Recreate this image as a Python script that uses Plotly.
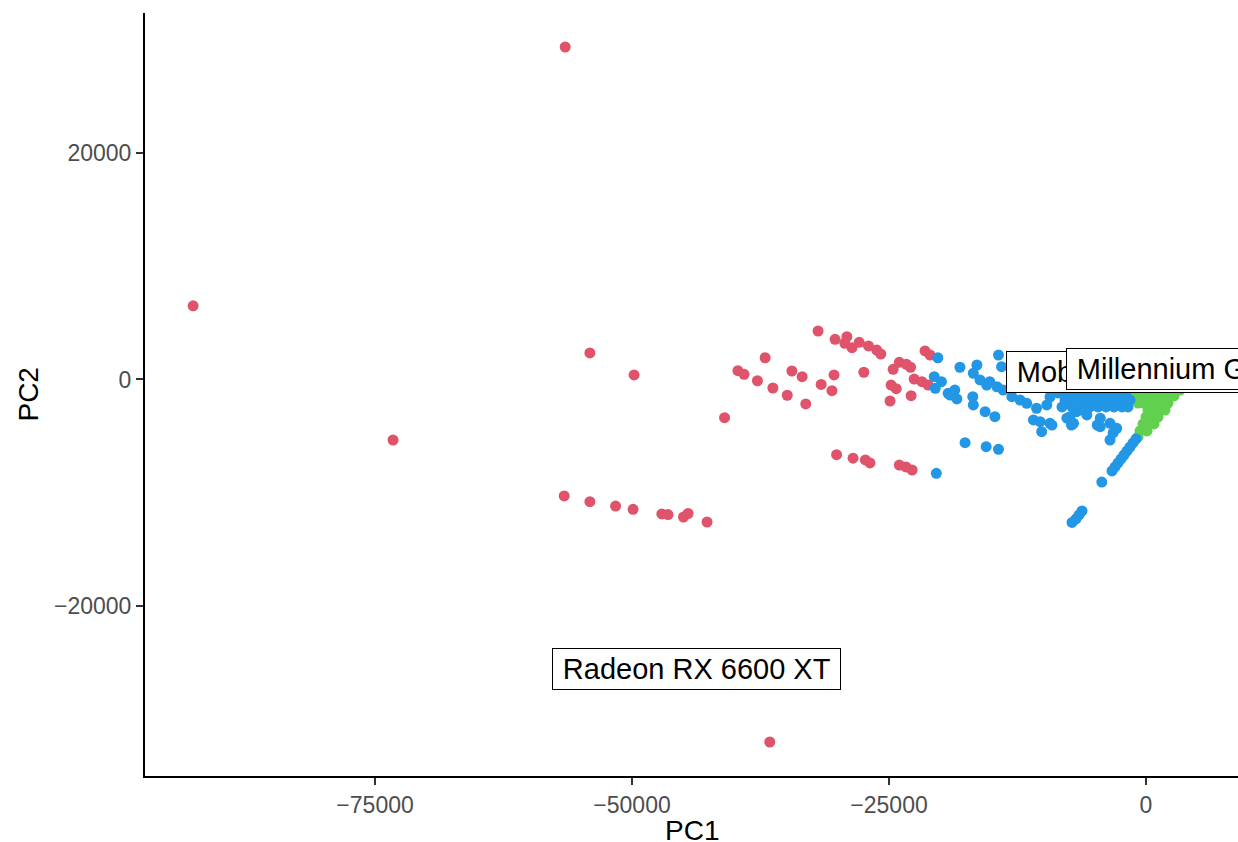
import plotly.graph_objects as go

# ---- data ----
red_x = [-56500, -92700, -73250, -54100, -49800, -36600, -41000,
         -56600, -54100, -51600, -49900, -47100, -46500, -45000, -44550, -42700,
         -30100, -28500, -27300, -26850, -24000, -23350, -22750,
         -31900, -30250, -29100, -29300, -28600, -27900, -27000, -26200, -25800,
         -37050, -39700, -39100, -37800, -36300, -34900, -34450, -33450, -33100,
         -31600, -30350, -30550, -27450, -24600, -24000, -23300, -22900,
         -24800, -24300, -24900, -22550, -22850, -21500, -21000, -21800, -21200]
red_y = [29350, 6500, -5340, 2340, 400, -32000, -3370,
         -10280, -10790, -11170, -11460, -11870, -11920, -12140, -11830, -12580,
         -6640, -6950, -7100, -7370, -7550, -7720, -7990,
         4280, 3550, 3780, 3200, 2810, 3280, 2960, 2600, 2250,
         1920, 780, 460, -110, -750, -1390, 750, 250, -2160,
         -440, 400, -990, 640, 900, 1520, 1340, 1080,
         -490, -810, -1900, 40, -1430, 2520, 2160, -190, -490]

blue_x = [-20400, -20250, -20600, -19900, -20500, -18100, -19050, -18600, -18400,
          -16450, -16800, -16150, -15500, -16850, -16800, -15650, -14350, -14050,
          -15200, -14500, -13900, -13050, -12250, -11600, -10650, -9650, -10950,
          -10300, -9350, -10150, -19250, -14700, -17600, -15550, -14350,
          -7400, -7050, -7400, -6750, -7700, -7250, -6400, -5750, -4450, -4450,
          -3500, -2850, -3500, -3200, -4750, -9150, -4300,
          -970, -1265, -1556, -1848, -2140, -2432, -2724, -3016, -3308,
          -6226, -6518, -6810, -7198,
          -8172, -7393, -6615, -5837, -5059, -4280, -3502, -2724, -1946,
          -7880, -6907, -5934, -5253, -4475, -3697, -2918, -2140, -1556,
          -8172, -7199, -6226, -5448, -4669, -3891, -3113, -2335, -1751,
          -9340, -8560]
blue_y = [-8280, 1920, 250, -190, -780, 1080, -1370, -930, -1720,
          1280, 550, -40, -490, -1520, -2250, -2840, 2160, 1130,
          -190, -640, -930, -1520, -1810, -2100, -2540, -2250, -3570,
          -3720, -3870, -4610, -1220, -3280, -5580, -5930, -6160,
          -1810, -3870, -3280, -2840, -3420, -4020, -2690, -3130, -3420, -4170,
          -3870, -4310, -5340, -4720, -4020, -4020, -9050,
          -5250, -5600, -5960, -6310, -6665, -7017, -7370, -7723, -8076,
          -11606, -11959, -12312, -12621,
          -1190, -1190, -1190, -1190, -1190, -1190, -1190, -1190, -1190,
          -1809, -1809, -1809, -1809, -1809, -1809, -1809, -1809, -1809,
          -2427, -2427, -2427, -2427, -2427, -2427, -2427, -2427, -2427,
          -1545, -1190]

green_x = [-1751, -1167, -584, 0, 584, 1167, 1751, 2335, 2918, 3308,
           -1362, -778, -195, 389, 973, 1556, 2140, 2724,
           -778, -195, 389, 973, 1556, 2140,
           195, 778, 1362, 1848,
           0, 584, 1167,
           -292, 389, 778,
           -584, 97,
           -778,
           -1946, -1167, -389, 389, 1167, 1946, 2724, 3500]
green_y = [-927, -927, -927, -927, -927, -927, -927, -927, -927, -927,
           -1456, -1456, -1456, -1456, -1456, -1456, -1456, -1456,
           -2074, -2074, -2074, -2074, -2074, -2074,
           -2692, -2692, -2692, -2692,
           -3310, -3310, -3310,
           -3927, -3927, -3927,
           -4545, -4545,
           -5075,
           -309, -309, -309, -309, -309, -309, -309, -309]

label_text = ["Radeon RX 6600 XT", "Mobility Radeon 9000", "Millennium G450"]
label_x = [-57800, -13600, -7780]
label_y = [-25550, 660, 930]

x_range = [-97380, 8950]
y_range = [-35000, 32350]
x_ticks = [-75000, -50000, -25000, 0]
x_tick_text = ["\u221275000", "\u221250000", "\u221225000", "0"]
y_ticks = [-20000, 0, 20000]
y_tick_text = ["\u221220000", "0", "20000"]

RED, BLUE, GREEN = "#DF536B", "#2297E6", "#61D04F"
FONT = "Liberation Sans, Arial, sans-serif"
PAD = "\u2009"

fig = go.Figure()
for xs, ys, col in [(red_x, red_y, RED), (green_x, green_y, GREEN), (blue_x, blue_y, BLUE)]:
    fig.add_trace(go.Scatter(x=xs, y=ys, mode="markers",
                             marker=dict(color=col, size=11, line=dict(width=0)),
                             showlegend=False, hoverinfo="skip"))

for t, lx, ly in zip(label_text, label_x, label_y):
    fig.add_annotation(x=lx, y=ly, xref="x", yref="y", text=PAD + t + PAD, showarrow=False,
                       xanchor="left", yanchor="middle",
                       font=dict(family=FONT, size=29, color="black"),
                       bgcolor="white", bordercolor="black", borderwidth=1, borderpad=4)

fig.add_annotation(x=0.5, y=-0.071, xref="paper", yref="paper", text="PC1",
                   showarrow=False, xanchor="center", yanchor="middle",
                   font=dict(family=FONT, size=28, color="black"))
fig.add_annotation(x=-0.107, y=0.5, xref="paper", yref="paper", text="PC2",
                   showarrow=False, xanchor="center", yanchor="middle", textangle=-90,
                   font=dict(family=FONT, size=28, color="black"))

axis_common = dict(showgrid=False, zeroline=False, showline=True, linecolor="black",
                   linewidth=2, ticks="outside", ticklen=7, tickwidth=1.5,
                   tickcolor="#333333",
                   tickfont=dict(family=FONT, size=23, color="#4D4D4D"))
fig.update_xaxes(range=x_range, tickvals=x_ticks, ticktext=x_tick_text, **axis_common)
fig.update_yaxes(range=y_range, tickvals=y_ticks, ticktext=y_tick_text, **axis_common)

fig.update_layout(width=1238, height=842, plot_bgcolor="white", paper_bgcolor="white",
                  margin=dict(l=145, r=0, t=13, b=66), showlegend=False)

fig.write_html("out.html", config={"displayModeBar": False},
               post_script="document.body.style.margin='0';"
                           "document.body.style.overflow='hidden';")
